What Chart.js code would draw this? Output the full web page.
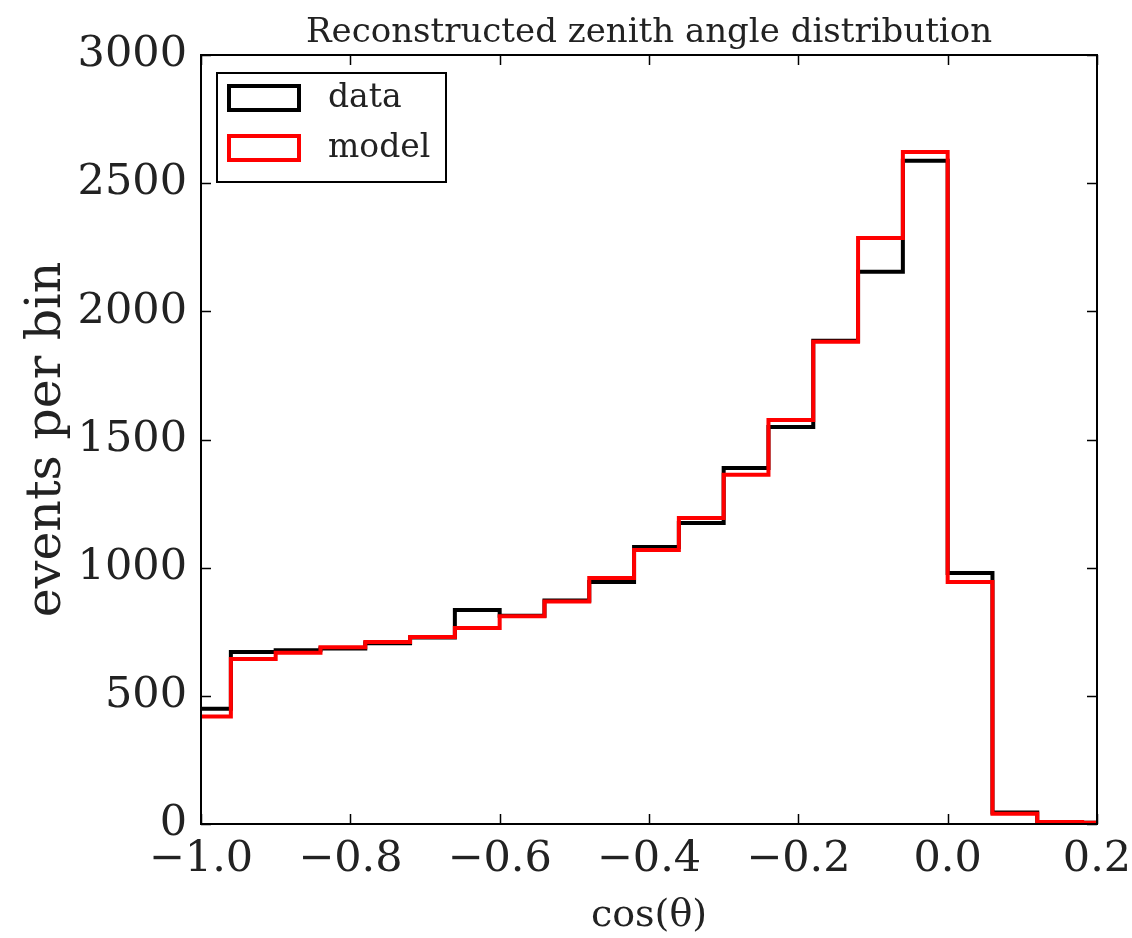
<!DOCTYPE html>
<html>
<head>
<meta charset="utf-8">
<script src="https://cdn.jsdelivr.net/npm/chart.js@4/dist/chart.umd.min.js"></script>
<style>
  html, body { margin: 0; padding: 0; background: #fff; }
  #wrap { width: 1132px; height: 938px; position: relative; }
</style>
</head>
<body>
<div id="wrap"><canvas id="zenithChart" width="1132" height="938"></canvas></div>
<script>
// Histogram bins: left edges of each cos(theta) bin (width 0.06)
const binEdges = [-1.02, -0.96, -0.90, -0.84, -0.78, -0.72, -0.66, -0.60, -0.54, -0.48, -0.42,
                  -0.36, -0.30, -0.24, -0.18, -0.12, -0.06, 0.00, 0.06, 0.12, 0.18, 0.24];
const dataCounts  = [450, 671, 678, 685, 705, 728, 835, 812, 872, 944, 1081,
                     1174, 1389, 1549, 1885, 2154, 2587, 979, 45, 8, 5];
const modelCounts = [419, 644, 668, 690, 710, 730, 765, 810, 868, 960, 1069,
                     1194, 1362, 1576, 1881, 2286, 2622, 944, 40, 8, 5];
const seriesNames = ['data', 'model'];
const seriesColors = ['#000000', '#ff0000'];
const yTicks = [0, 500, 1000, 1500, 2000, 2500, 3000];
const xTicks = [-1.0, -0.8, -0.6, -0.4, -0.2, 0.0, 0.2];

const SERIF = '"DejaVu Serif", serif';

// turn bin counts into step points (value held until next edge)
function stepPoints(counts) {
    const pts = counts.map((c, i) => ({ x: binEdges[i], y: c }));
    pts.push({ x: binEdges[counts.length], y: counts[counts.length - 1] });
    return pts;
}

function fmtX(v) {
    if (Math.abs(v) < 1e-9) return '0.0';
    return v.toFixed(1).replace('-', '\u2212');
}

// frame, inward ticks, title, axis titles and legend
const decorPlugin = {
    id: 'decor',
    afterDatasetsDraw(chart) {
        const { ctx, chartArea: a, scales } = chart;
        const xs = scales.x, ys = scales.y;
        const tl = 10;
        ctx.save();
        ctx.strokeStyle = '#000';
        ctx.lineWidth = 1.5;
        ctx.beginPath();
        yTicks.forEach(v => {
            const py = Math.round(ys.getPixelForValue(v)) + 0.5;
            ctx.moveTo(a.left, py); ctx.lineTo(a.left + tl, py);
            ctx.moveTo(a.right, py); ctx.lineTo(a.right - tl, py);
        });
        xTicks.forEach(v => {
            const px = Math.round(xs.getPixelForValue(v)) + 0.5;
            ctx.moveTo(px, a.bottom); ctx.lineTo(px, a.bottom - tl);
            ctx.moveTo(px, a.top); ctx.lineTo(px, a.top + tl);
        });
        ctx.stroke();
        ctx.lineWidth = 2;
        ctx.strokeRect(a.left, a.top, a.right - a.left, a.bottom - a.top);

        // title
        ctx.fillStyle = '#222';
        ctx.font = '34px ' + SERIF;
        ctx.textAlign = 'center';
        ctx.textBaseline = 'alphabetic';
        ctx.fillText('Reconstructed zenith angle distribution', (a.left + a.right) / 2, 42);

        // axis titles
        ctx.font = '38px ' + SERIF;
        ctx.fillText('cos(\u03b8)', (a.left + a.right) / 2, 926);
        ctx.save();
        ctx.translate(60, (a.top + a.bottom) / 2);
        ctx.rotate(-Math.PI / 2);
        ctx.font = '49px ' + SERIF;
        ctx.fillText('events per bin', 0, 0);
        ctx.restore();

        // legend
        const lx = a.left + 16, ly = a.top + 18;
        ctx.fillStyle = '#fff';
        ctx.fillRect(lx, ly, 229, 109);
        ctx.strokeStyle = '#000';
        ctx.lineWidth = 2;
        ctx.strokeRect(lx, ly, 229, 109);
        ctx.font = '33px ' + SERIF;
        ctx.textAlign = 'left';
        ctx.textBaseline = 'middle';
        seriesNames.forEach((name, i) => {
            const ry = ly + 13 + i * 50;
            ctx.strokeStyle = seriesColors[i];
            ctx.lineWidth = 4;
            ctx.strokeRect(lx + 12, ry, 70, 24);
            ctx.fillStyle = '#222';
            ctx.fillText(name, lx + 111, ry + 12);
        });
        ctx.restore();
    }
};

const ctx = document.getElementById('zenithChart');
new Chart(ctx, {
    type: 'line',
    data: {
        datasets: [
            {
                label: seriesNames[1],
                data: stepPoints(modelCounts),
                borderColor: seriesColors[1],
                borderWidth: 4,
                stepped: 'before',
                pointRadius: 0,
                fill: false,
                order: 1
            },
            {
                label: seriesNames[0],
                data: stepPoints(dataCounts),
                borderColor: seriesColors[0],
                borderWidth: 4,
                stepped: 'before',
                pointRadius: 0,
                fill: false,
                order: 2
            }
        ]
    },
    options: {
        responsive: false,
        animation: false,
        clip: 0,
        layout: { padding: { left: 0, top: 55, right: 35, bottom: 0 } },
        plugins: {
            legend: { display: false },
            title: { display: false },
            tooltip: { enabled: false }
        },
        scales: {
            x: {
                type: 'linear',
                min: -1.0,
                max: 0.2,
                afterFit(scale) {
                    scale.height = 114;
                    scale.paddingLeft = 0;
                    scale.paddingRight = 0;
                },
                afterBuildTicks(scale) { scale.ticks = xTicks.map(v => ({ value: v })); },
                grid: { display: false, drawTicks: false },
                border: { display: false },
                ticks: {
                    color: '#222',
                    padding: 10,
                    font: { family: SERIF, size: 43 },
                    maxRotation: 0,
                    callback: v => fmtX(v)
                }
            },
            y: {
                min: 0,
                max: 3000,
                afterFit(scale) {
                    scale.width = 201;
                    scale.paddingTop = 0;
                    scale.paddingBottom = 0;
                },
                afterBuildTicks(scale) { scale.ticks = yTicks.map(v => ({ value: v })); },
                grid: { display: false, drawTicks: false },
                border: { display: false },
                ticks: {
                    color: '#222',
                    padding: 14,
                    font: { family: SERIF, size: 43 },
                    callback: v => String(v)
                }
            }
        }
    },
    plugins: [decorPlugin]
});
</script>
</body>
</html>
